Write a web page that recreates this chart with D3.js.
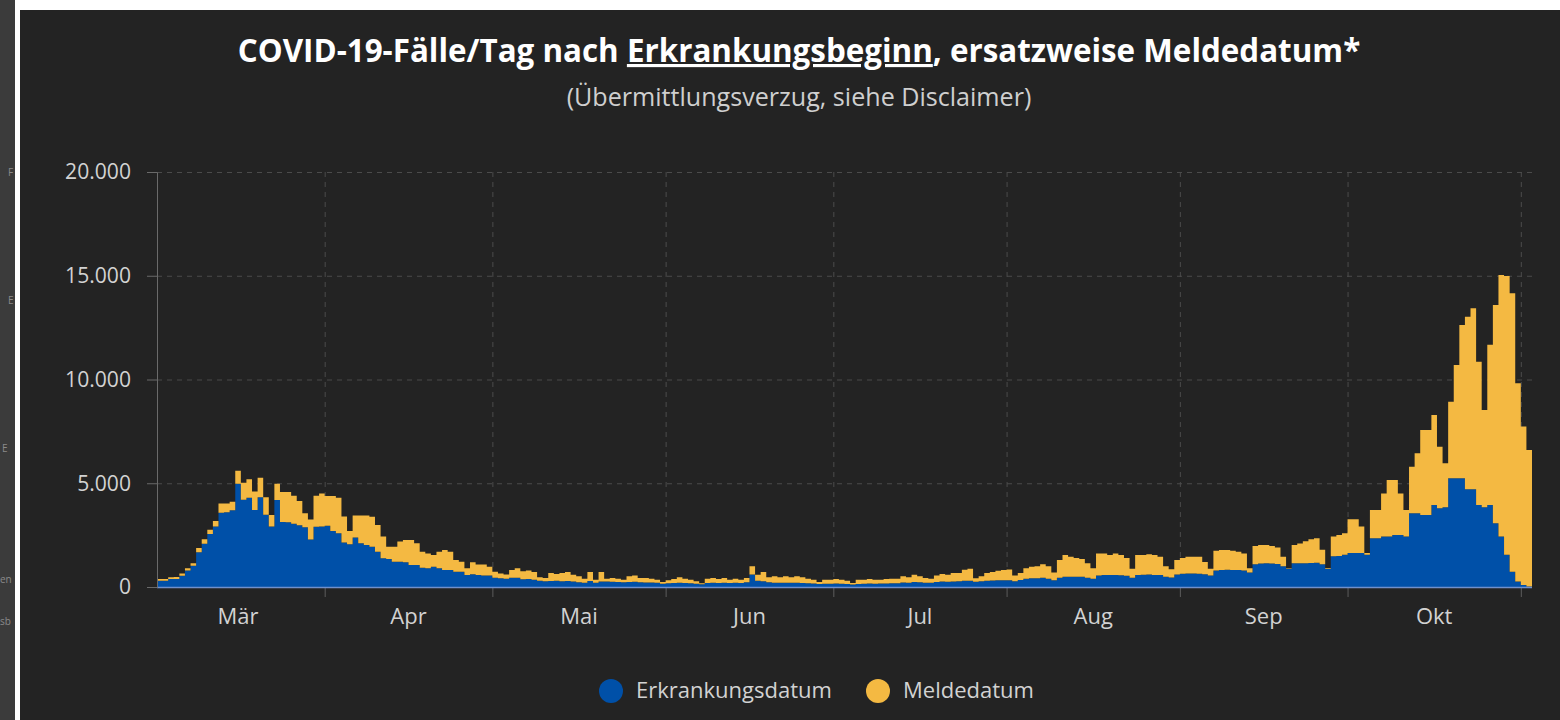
<!DOCTYPE html>
<html>
<head>
<meta charset="utf-8">
<script src="https://cdn.jsdelivr.net/npm/d3@7"></script>
<style>
  html, body { margin: 0; padding: 0; background: #fff; }
  svg { display: block; }
  text { font-family: "Open Sans", "Noto Sans", sans-serif; }
</style>
</head>
<body>
<svg id="chart"></svg>
<script>
// first day of the series, one bar per day
const startDay = '2020-03-02';

// cases per day with known onset date (blue)
const erkrankungsdatum = [
  300, 300, 380, 390, 540, 790, 1020, 1680, 2080, 2560,
  2910, 3580, 3600, 3700, 4980, 4200, 4300, 3710, 4320, 3480,
  2910, 4190, 3130, 3120, 3050, 2980, 2880, 2290, 2900, 2910,
  2950, 2700, 2590, 2150, 2060, 2380, 2110, 2030, 1940, 1700,
  1380, 1350, 1220, 1220, 1190, 1060, 1060, 930, 900, 980,
  900, 820, 820, 740, 740, 580, 610, 580, 550, 550,
  450, 420, 400, 450, 450, 370, 380, 350, 300, 280,
  290, 300, 280, 290, 260, 230, 200, 290, 210, 270,
  260, 250, 240, 230, 240, 250, 230, 220, 220, 200,
  160, 180, 190, 200, 190, 180, 160, 130, 190, 200,
  190, 200, 190, 200, 190, 230, 600, 300, 280, 230,
  210, 200, 210, 200, 200, 190, 180, 170, 140, 160,
  160, 170, 160, 150, 120, 150, 160, 170, 160, 170,
  170, 180, 180, 220, 210, 240, 230, 210, 200, 240,
  260, 250, 270, 280, 300, 300, 250, 280, 300, 310,
  320, 330, 330, 280, 340, 400, 420, 420, 440, 400,
  330, 450, 500, 500, 500, 500, 450, 400, 560, 580,
  580, 580, 570, 540, 450, 580, 590, 600, 580, 580,
  500, 460, 600, 640, 650, 650, 640, 620, 560, 800,
  820, 830, 820, 820, 800, 700, 1100, 1130, 1140, 1130,
  1110, 1000, 880, 1140, 1150, 1150, 1160, 1170, 1100, 880,
  1480, 1500, 1560, 1640, 1640, 1640, 1560, 2350, 2350, 2430,
  2430, 2510, 2510, 2430, 3550, 3550, 3470, 3470, 3950, 3790,
  3840, 5240, 5240, 5240, 4710, 4710, 3950, 3840, 3950, 3070,
  2430, 1560, 740, 260, 100, 20
];

// cases per day by report date only (yellow, stacked on top)
const meldedatum = [
  80, 90, 90, 90, 110, 110, 130, 200, 220, 200,
  270, 450, 430, 410, 620, 830, 890, 890, 940, 840,
  560, 790, 1450, 1460, 1350, 1170, 670, 960, 1500, 1600,
  1440, 1690, 1710, 1250, 640, 1060, 1330, 1410, 1450, 1290,
  1050, 590, 720, 970, 1080, 1210, 1050, 770, 720, 560,
  800, 960, 880, 560, 480, 320, 580, 510, 540, 430,
  290, 230, 200, 370, 450, 385, 410, 370, 170, 150,
  385, 325, 395, 430, 335, 285, 200, 430, 145, 450,
  140, 180, 160, 125, 275, 310, 200, 210, 180, 155,
  80, 140, 195, 265, 210, 175, 115, 50, 210, 230,
  195, 230, 165, 200, 165, 200, 400, 295, 440, 235,
  305, 265, 305, 265, 315, 275, 220, 185, 100, 195,
  195, 215, 195, 155, 75, 205, 195, 215, 195, 185,
  215, 220, 220, 295, 255, 355, 285, 220, 200, 320,
  365, 345, 405, 395, 530, 580, 170, 240, 380, 410,
  460, 490, 510, 280, 340, 500, 560, 580, 660, 600,
  370, 850, 1040, 960, 900, 850, 700, 500, 1060, 1040,
  960, 1040, 970, 860, 430, 960, 950, 980, 960, 880,
  500, 390, 700, 760, 810, 810, 820, 580, 320, 950,
  965, 955, 930, 880, 820, 200, 875, 895, 885, 845,
  790, 460, 20, 885, 950, 1050, 1140, 1175, 700, 40,
  950, 1010, 1030, 1620, 1620, 1270, 80, 1360, 1360, 2080,
  2730, 2650, 2000, 1280, 2250, 2890, 4100, 4100, 4340, 2970,
  2120, 3690, 5460, 7390, 8320, 8720, 6910, 4690, 7720, 10520,
  12610, 13430, 13415, 9560, 7630, 6580
];

const seriesNames = ['Erkrankungsdatum', 'Meldedatum'];
const seriesColors = ['#0050a8', '#f4b942'];
const yTicks = [0, 5000, 10000, 15000, 20000];
const monthLabels = ['Mär', 'Apr', 'Mai', 'Jun', 'Jul', 'Aug', 'Sep', 'Okt'];

const width = 1560;
const height = 720;
const plot = { left: 157, right: 1532, top: 172, bottom: 587 };

const de = d3.formatLocale({ decimal: ',', thousands: '.', grouping: [3], currency: ['', ' €'] });
const fmt = de.format(',d');

const svg = d3.select('#chart')
  .attr('width', width)
  .attr('height', height);

// page bits around the dashboard panel
svg.append('rect').attr('width', width).attr('height', height).attr('fill', '#fff');
svg.append('rect').attr('width', 15).attr('height', height).attr('fill', '#3b3b3b');
svg.append('rect').attr('x', 20).attr('y', 10).attr('width', width - 20).attr('height', height - 10).attr('fill', '#232323');

const side = svg.append('g').attr('fill', '#8a8a8a').style('font-size', '10px');
[['F', 8, 176], ['E', 8, 304], ['E', 2, 452], ['en', 0, 583], ['sb', 0, 625]].forEach(([t, x, y]) => {
  side.append('text').attr('x', x).attr('y', y).text(t);
});

const start = new Date(startDay + 'T00:00:00Z');
const days = erkrankungsdatum.map((v, i) => d3.utcDay.offset(start, i));
const end = d3.utcDay.offset(start, days.length);
const rows = days.map((d, i) => ({
  day: d,
  Erkrankungsdatum: erkrankungsdatum[i],
  Meldedatum: meldedatum[i]
}));

const xScale = d3.scaleUtc()
  .domain([start, end])
  .range([plot.left, plot.right]);

const yScale = d3.scaleLinear()
  .domain([0, 20000])
  .range([plot.bottom, plot.top]);

const color = d3.scaleOrdinal(seriesNames, seriesColors);

const monthStarts = d3.utcMonth.range(d3.utcMonth.ceil(start), end);

// scale a group of labels so a sample label gets the reference width
function fitGroup(sel, sample, target) {
  const len = sample.node().getComputedTextLength();
  const fs = parseFloat(sample.style('font-size'));
  sel.style('font-size', (fs * target / len) + 'px');
}

// grid
svg.append('g')
  .attr('transform', `translate(0, ${plot.bottom})`)
  .call(d3.axisBottom(xScale).tickValues(monthStarts).tickSize(-(plot.bottom - plot.top)).tickFormat(''))
  .call(g => g.select('.domain').remove())
  .call(g => g.selectAll('line').attr('stroke', '#4b4b4b').attr('stroke-dasharray', '5,5'));

svg.append('g')
  .attr('transform', `translate(${plot.left}, 0)`)
  .call(d3.axisLeft(yScale).tickValues(yTicks.slice(1)).tickSize(-(plot.right - plot.left)).tickFormat(''))
  .call(g => g.select('.domain').remove())
  .call(g => g.selectAll('line').attr('stroke', '#4b4b4b').attr('stroke-dasharray', '5,5'));

// stacked daily values drawn as step areas so neighbouring days touch
const stacked = d3.stack().keys(seriesNames)(rows);

const area = d3.area()
  .curve(d3.curveStepAfter)
  .x(d => xScale(d.data.day))
  .y0(d => yScale(d[0]))
  .y1(d => yScale(d[1]));

svg.append('g')
  .selectAll('path')
  .data(stacked)
  .enter()
  .append('path')
  .attr('fill', d => color(d.key))
  .attr('d', s => {
    const last = s[s.length - 1];
    const tail = Object.assign([last[0], last[1]], { data: { day: end } });
    return area(s.concat([tail]));
  });

// x axis
const xAxis = svg.append('g')
  .attr('transform', `translate(0, ${plot.bottom})`)
  .call(d3.axisBottom(xScale).tickValues(monthStarts).tickSize(10).tickFormat(''));
xAxis.select('.domain').remove();
xAxis.selectAll('line').attr('stroke', '#5c5c5c');

svg.append('line')
  .attr('x1', plot.left).attr('x2', plot.right)
  .attr('y1', plot.bottom + 0.5).attr('y2', plot.bottom + 0.5)
  .attr('stroke', '#6f90cc')
  .attr('stroke-width', 1.5);

const monthFirsts = d3.utcMonth.range(d3.utcMonth.floor(start), d3.utcMonth.floor(end));
const months = svg.append('g')
  .selectAll('text')
  .data(monthFirsts)
  .enter()
  .append('text')
  .attr('x', d => (xScale(d) + xScale(d3.utcMonth.offset(d, 1))) / 2)
  .attr('y', 624)
  .attr('text-anchor', 'middle')
  .attr('fill', '#d2d2d2')
  .style('font-size', '17px')
  .text((d, i) => monthLabels[i]);
fitGroup(months, months.filter((d, i) => i === 0), 41);

// y axis
const yAxis = svg.append('g')
  .attr('transform', `translate(${plot.left}, 0)`)
  .call(d3.axisLeft(yScale).tickValues(yTicks).tickFormat(fmt).tickSize(10).tickPadding(16));
yAxis.select('.domain').attr('stroke', '#6a6a6a');
yAxis.selectAll('line').attr('stroke', '#6a6a6a');
const yLabels = yAxis.selectAll('text')
  .attr('fill', '#d2d2d2')
  .style('font-size', '17px')
  .style('font-family', '"Open Sans", sans-serif');
fitGroup(yLabels, yLabels.filter(d => d === 20000), 66);

// title
const title = svg.append('text')
  .attr('x', 799)
  .attr('y', 62)
  .attr('text-anchor', 'middle')
  .attr('fill', '#fff')
  .style('font-weight', 700)
  .style('font-size', '26px');
title.append('tspan').text('COVID-19-Fälle/Tag nach ');
title.append('tspan').style('text-decoration', 'underline').text('Erkrankungsbeginn');
title.append('tspan').text(', ersatzweise Meldedatum*');

const subtitle = svg.append('text')
  .attr('x', 799)
  .attr('y', 106)
  .attr('text-anchor', 'middle')
  .attr('fill', '#cfcfcf')
  .style('font-size', '18px')
  .text('(Übermittlungsverzug, siehe Disclaimer)');

fitGroup(title, title, 1123);
fitGroup(subtitle, subtitle, 465);

// legend
const legendX = [611, 878];
const legend = svg.append('g')
  .selectAll('g')
  .data(seriesNames)
  .enter()
  .append('g')
  .attr('transform', (d, i) => `translate(${legendX[i]}, 691)`);

legend.append('circle')
  .attr('r', 12)
  .attr('fill', d => color(d));

const legendText = legend.append('text')
  .attr('x', 25)
  .attr('y', 7)
  .attr('fill', '#d2d2d2')
  .style('font-size', '19px')
  .text(d => d);
fitGroup(legendText, legendText.filter((d, i) => i === 0), 196);
</script>
</body>
</html>
